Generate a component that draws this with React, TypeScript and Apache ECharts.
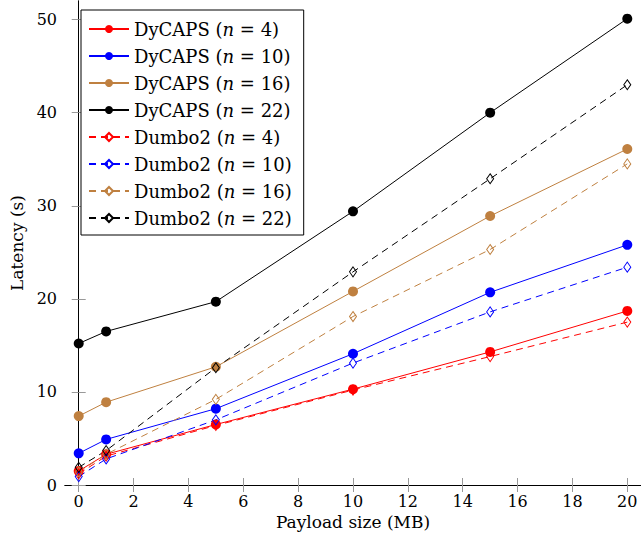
import React, { useEffect, useRef } from "react";
import * as echarts from "echarts";

const payloadSizes = [0, 1, 5, 10, 15, 20];
const dycaps4 = [1.5, 3.3, 6.5, 10.3, 14.3, 18.7];
const dycaps10 = [3.4, 4.9, 8.2, 14.1, 20.7, 25.8];
const dycaps16 = [7.4, 8.9, 12.7, 20.8, 28.9, 36.1];
const dycaps22 = [15.2, 16.5, 19.7, 29.4, 40.0, 50.1];
const dumbo4 = [1.2, 3.1, 6.4, 10.2, 13.8, 17.5];
const dumbo10 = [0.9, 2.8, 7.0, 13.1, 18.6, 23.4];
const dumbo16 = [1.4, 3.3, 9.2, 18.1, 25.3, 34.5];
const dumbo22 = [1.9, 3.7, 12.6, 22.9, 32.9, 43.0];
const xTicks = [0, 2, 4, 6, 8, 10, 12, 14, 16, 18, 20];
const yTicks = [0, 10, 20, 30, 40, 50];

const FONT = "DejaVu Serif";
const RED = "#ff0000";
const BLUE = "#0000ff";
const BROWN = "#bf8040";
const BLACK = "#000000";

const seriesDefs = [
  { name: "DyCAPS (n = 4)", data: dycaps4, color: RED, dashed: false },
  { name: "DyCAPS (n = 10)", data: dycaps10, color: BLUE, dashed: false },
  { name: "DyCAPS (n = 16)", data: dycaps16, color: BROWN, dashed: false },
  { name: "DyCAPS (n = 22)", data: dycaps22, color: BLACK, dashed: false },
  { name: "Dumbo2 (n = 4)", data: dumbo4, color: RED, dashed: true },
  { name: "Dumbo2 (n = 10)", data: dumbo10, color: BLUE, dashed: true },
  { name: "Dumbo2 (n = 16)", data: dumbo16, color: BROWN, dashed: true },
  { name: "Dumbo2 (n = 22)", data: dumbo22, color: BLACK, dashed: true },
];

export default function App() {
  const ref = useRef<HTMLDivElement>(null);
  useEffect(() => {
    document.body.style.margin = "0";
    if (!ref.current) return;
    const chart = echarts.init(ref.current, null, { renderer: "svg" });
    const tickStyle = { show: true, inside: true, length: 7, lineStyle: { color: "#999", width: 1 } };
    const axisLine = { show: true, lineStyle: { color: "#000", width: 1 } };
    chart.setOption({
      animation: false,
      backgroundColor: "#fff",
      grid: { left: 65, top: 1, width: 578, height: 484, containLabel: false },
      legend: {
        orient: "vertical",
        left: 81,
        top: 10,
        padding: [9, 12, 7, 7],
        backgroundColor: "#fff",
        borderColor: "#000",
        borderWidth: 1,
        itemWidth: 40,
        itemHeight: 10,
        itemGap: 7,
        data: seriesDefs.map((s) => s.name),
        formatter: (name: string) => name.replace("(n", "({i|n}"),
        textStyle: {
          fontFamily: FONT,
          fontSize: 18,
          color: "#000",
          lineHeight: 20,
          rich: { i: { fontFamily: FONT, fontSize: 18, fontStyle: "italic", color: "#000" } },
        },
      },
      xAxis: [
        {
          type: "value",
          min: -0.5,
          max: 20.5,
          name: "Payload size (MB)",
          nameLocation: "middle",
          nameGap: 28,
          nameTextStyle: { fontFamily: FONT, fontSize: 17, color: "#000" },
          axisLine,
          axisTick: { ...tickStyle, customValues: xTicks },
          axisLabel: { fontFamily: FONT, fontSize: 16, color: "#000", margin: 8, customValues: xTicks },
          splitLine: { show: false },
        },
        {
          type: "value",
          position: "top",
          min: -0.5,
          max: 20.5,
          axisLine,
          axisTick: { ...tickStyle, customValues: xTicks },
          axisLabel: { show: false },
          splitLine: { show: false },
        },
      ],
      yAxis: [
        {
          type: "value",
          min: 0,
          max: 52,
          name: "Latency (s)",
          nameLocation: "middle",
          nameGap: 38,
          nameTextStyle: { fontFamily: FONT, fontSize: 17, color: "#000" },
          axisLine,
          axisTick: { ...tickStyle, customValues: yTicks },
          axisLabel: { fontFamily: FONT, fontSize: 16, color: "#000", margin: 8, customValues: yTicks },
          splitLine: { show: false },
        },
        {
          type: "value",
          position: "right",
          min: 0,
          max: 52,
          axisLine,
          axisTick: { ...tickStyle, customValues: yTicks },
          axisLabel: { show: false },
          splitLine: { show: false },
        },
      ],
      series: seriesDefs.map((s) => ({
        name: s.name,
        type: "line",
        xAxisIndex: 0,
        yAxisIndex: 0,
        data: s.data.map((v, i) => [payloadSizes[i], v]),
        symbol: s.dashed ? "diamond" : "circle",
        symbolSize: s.dashed ? [7, 10] : 10,
        showSymbol: true,
        lineStyle: { color: s.color, width: 1, type: s.dashed ? [7, 5] : "solid" },
        itemStyle: s.dashed
          ? { color: "rgba(255,255,255,0)", borderColor: s.color, borderWidth: 1 }
          : { color: s.color, borderColor: s.color, borderWidth: 0 },
        emphasis: { disabled: true },
      })),
    });
    return () => chart.dispose();
  }, []);
  return <div ref={ref} style={{ width: 641, height: 537 }} />;
}
